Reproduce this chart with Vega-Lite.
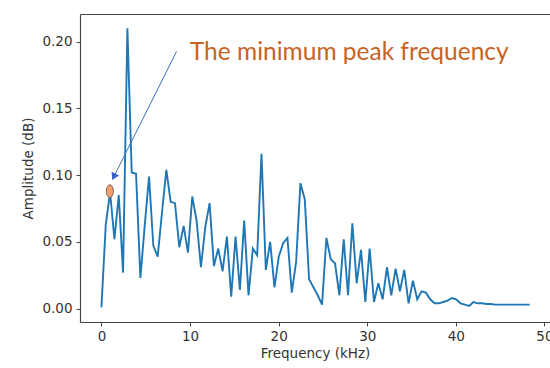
{
  "$schema": "https://vega.github.io/schema/vega-lite/v6.json",
  "width": 470,
  "height": 308,
  "autosize": "none",
  "padding": {"left": 80, "top": 14, "right": 0, "bottom": 46},
  "background": "white",
  "view": {"stroke": null},
  "config": {
    "axis": {
      "grid": false,
      "domainColor": "#444",
      "domainWidth": 1.2,
      "tickColor": "#444",
      "tickSize": 4,
      "tickWidth": 1,
      "labelFont": "DejaVu Sans",
      "labelFontSize": 13.5,
      "labelColor": "#333",
      "titleFont": "DejaVu Sans",
      "titleFontSize": 13.5,
      "titleFontWeight": "normal",
      "titleColor": "#333"
    }
  },
  "datasets": {
    "spectrum": [
      {"freq": 0, "amp": 0.001}, {"freq": 0.488, "amp": 0.063}, {"freq": 0.977, "amp": 0.087}, {"freq": 1.465, "amp": 0.052},
      {"freq": 1.953, "amp": 0.085}, {"freq": 2.441, "amp": 0.027}, {"freq": 2.93, "amp": 0.21}, {"freq": 3.418, "amp": 0.102},
      {"freq": 3.906, "amp": 0.101}, {"freq": 4.395, "amp": 0.023}, {"freq": 4.883, "amp": 0.062}, {"freq": 5.371, "amp": 0.099},
      {"freq": 5.859, "amp": 0.047}, {"freq": 6.348, "amp": 0.039}, {"freq": 6.836, "amp": 0.072}, {"freq": 7.324, "amp": 0.104},
      {"freq": 7.813, "amp": 0.08}, {"freq": 8.301, "amp": 0.079}, {"freq": 8.789, "amp": 0.046}, {"freq": 9.277, "amp": 0.062},
      {"freq": 9.766, "amp": 0.042}, {"freq": 10.254, "amp": 0.084}, {"freq": 10.742, "amp": 0.066}, {"freq": 11.23, "amp": 0.031},
      {"freq": 11.719, "amp": 0.061}, {"freq": 12.207, "amp": 0.079}, {"freq": 12.695, "amp": 0.032}, {"freq": 13.184, "amp": 0.045},
      {"freq": 13.672, "amp": 0.028}, {"freq": 14.16, "amp": 0.054}, {"freq": 14.648, "amp": 0.009}, {"freq": 15.137, "amp": 0.054},
      {"freq": 15.625, "amp": 0.014}, {"freq": 16.113, "amp": 0.066}, {"freq": 16.602, "amp": 0.01}, {"freq": 17.09, "amp": 0.045},
      {"freq": 17.578, "amp": 0.04}, {"freq": 18.066, "amp": 0.116}, {"freq": 18.555, "amp": 0.029}, {"freq": 19.043, "amp": 0.05},
      {"freq": 19.531, "amp": 0.016}, {"freq": 20.02, "amp": 0.039}, {"freq": 20.508, "amp": 0.049}, {"freq": 20.996, "amp": 0.053},
      {"freq": 21.484, "amp": 0.012}, {"freq": 21.973, "amp": 0.035}, {"freq": 22.461, "amp": 0.094}, {"freq": 22.949, "amp": 0.082},
      {"freq": 23.438, "amp": 0.022}, {"freq": 23.926, "amp": 0.016}, {"freq": 24.414, "amp": 0.01}, {"freq": 24.902, "amp": 0.003},
      {"freq": 25.391, "amp": 0.053}, {"freq": 25.879, "amp": 0.037}, {"freq": 26.367, "amp": 0.034}, {"freq": 26.855, "amp": 0.01},
      {"freq": 27.344, "amp": 0.052}, {"freq": 27.832, "amp": 0.01}, {"freq": 28.32, "amp": 0.064}, {"freq": 28.809, "amp": 0.019},
      {"freq": 29.297, "amp": 0.044}, {"freq": 29.785, "amp": 0.005}, {"freq": 30.273, "amp": 0.045}, {"freq": 30.762, "amp": 0.005},
      {"freq": 31.25, "amp": 0.019}, {"freq": 31.738, "amp": 0.007}, {"freq": 32.227, "amp": 0.031}, {"freq": 32.715, "amp": 0.01},
      {"freq": 33.203, "amp": 0.03}, {"freq": 33.691, "amp": 0.013}, {"freq": 34.18, "amp": 0.029}, {"freq": 34.668, "amp": 0.004},
      {"freq": 35.156, "amp": 0.021}, {"freq": 35.645, "amp": 0.007}, {"freq": 36.133, "amp": 0.013}, {"freq": 36.621, "amp": 0.012},
      {"freq": 37.109, "amp": 0.007}, {"freq": 37.598, "amp": 0.004}, {"freq": 38.086, "amp": 0.004}, {"freq": 38.574, "amp": 0.005},
      {"freq": 39.063, "amp": 0.006}, {"freq": 39.551, "amp": 0.008}, {"freq": 40.039, "amp": 0.007}, {"freq": 40.527, "amp": 0.004},
      {"freq": 41.016, "amp": 0.003}, {"freq": 41.504, "amp": 0.002}, {"freq": 41.992, "amp": 0.005}, {"freq": 42.48, "amp": 0.004},
      {"freq": 42.969, "amp": 0.004}, {"freq": 43.457, "amp": 0.0035}, {"freq": 43.945, "amp": 0.0035}, {"freq": 44.434, "amp": 0.003},
      {"freq": 44.922, "amp": 0.003}, {"freq": 45.41, "amp": 0.003}, {"freq": 45.898, "amp": 0.003}, {"freq": 46.387, "amp": 0.003},
      {"freq": 46.875, "amp": 0.003}, {"freq": 47.363, "amp": 0.003}, {"freq": 47.852, "amp": 0.003}, {"freq": 48.34, "amp": 0.003}
    ],
    "marker": [{"freq": 0.95, "amp": 0.088}],
    "arrow": [{"x1": 8.48, "y1": 0.1927, "x2": 1.39, "y2": 0.0987}],
    "label": [{"freq": 9.98, "amp": 0.1865, "text": "The minimum peak frequency"}]
  },
  "resolve": {"axis": {"x": "independent", "y": "independent"}},
  "layer": [
    {
      "data": {"name": "spectrum"},
      "mark": {"type": "line", "color": "#1f77b4", "strokeWidth": 1.9, "clip": true},
      "encoding": {
        "x": {
          "field": "freq", "type": "quantitative",
          "scale": {"domain": [-2.42, 50.63], "nice": false, "zero": false},
          "axis": {"title": "Frequency (kHz)", "values": [0, 10, 20, 30, 40, 50], "format": "d", "labelPadding": 3, "titlePadding": 4}
        },
        "y": {
          "field": "amp", "type": "quantitative",
          "scale": {"domain": [-0.01, 0.2207], "nice": false, "zero": false},
          "axis": {"title": "Amplitude (dB)", "values": [0, 0.05, 0.1, 0.15, 0.2], "format": ".2f", "labelPadding": 4, "titlePadding": 6}
        }
      }
    },
    {
      "data": {"name": "marker"},
      "mark": {"type": "point", "filled": true, "shape": "M0,-1A0.55,1 0 1,1 0,1A0.55,1 0 1,1 0,-1Z", "size": 160, "fill": "#F2A06B", "stroke": "#7A5A48", "strokeWidth": 1, "opacity": 1},
      "encoding": {
        "x": {"field": "freq", "type": "quantitative", "axis": {"orient": "top", "labels": false, "ticks": false, "title": null, "domain": true}},
        "y": {"field": "amp", "type": "quantitative", "axis": {"orient": "right", "labels": false, "ticks": false, "title": null, "domain": false}}
      }
    },
    {
      "data": {"name": "arrow"},
      "mark": {"type": "rule", "color": "#4472C4", "strokeWidth": 1},
      "encoding": {
        "x": {"field": "x1", "type": "quantitative", "axis": null},
        "y": {"field": "y1", "type": "quantitative", "axis": null},
        "x2": {"field": "x2"},
        "y2": {"field": "y2"}
      }
    },
    {
      "data": {"name": "arrow"},
      "mark": {"type": "point", "shape": "triangle-up", "filled": true, "color": "#3A5FC8", "size": 70, "angle": 206.6, "opacity": 1},
      "encoding": {
        "x": {"field": "x2", "type": "quantitative", "axis": null},
        "y": {"field": "y2", "type": "quantitative", "axis": null}
      }
    },
    {
      "data": {"name": "label"},
      "mark": {"type": "text", "font": "Lato", "fontSize": 24.5, "color": "#C8621F", "align": "left", "baseline": "alphabetic"},
      "encoding": {
        "x": {"field": "freq", "type": "quantitative", "axis": null},
        "y": {"field": "amp", "type": "quantitative", "axis": null},
        "text": {"field": "text"}
      }
    }
  ]
}
